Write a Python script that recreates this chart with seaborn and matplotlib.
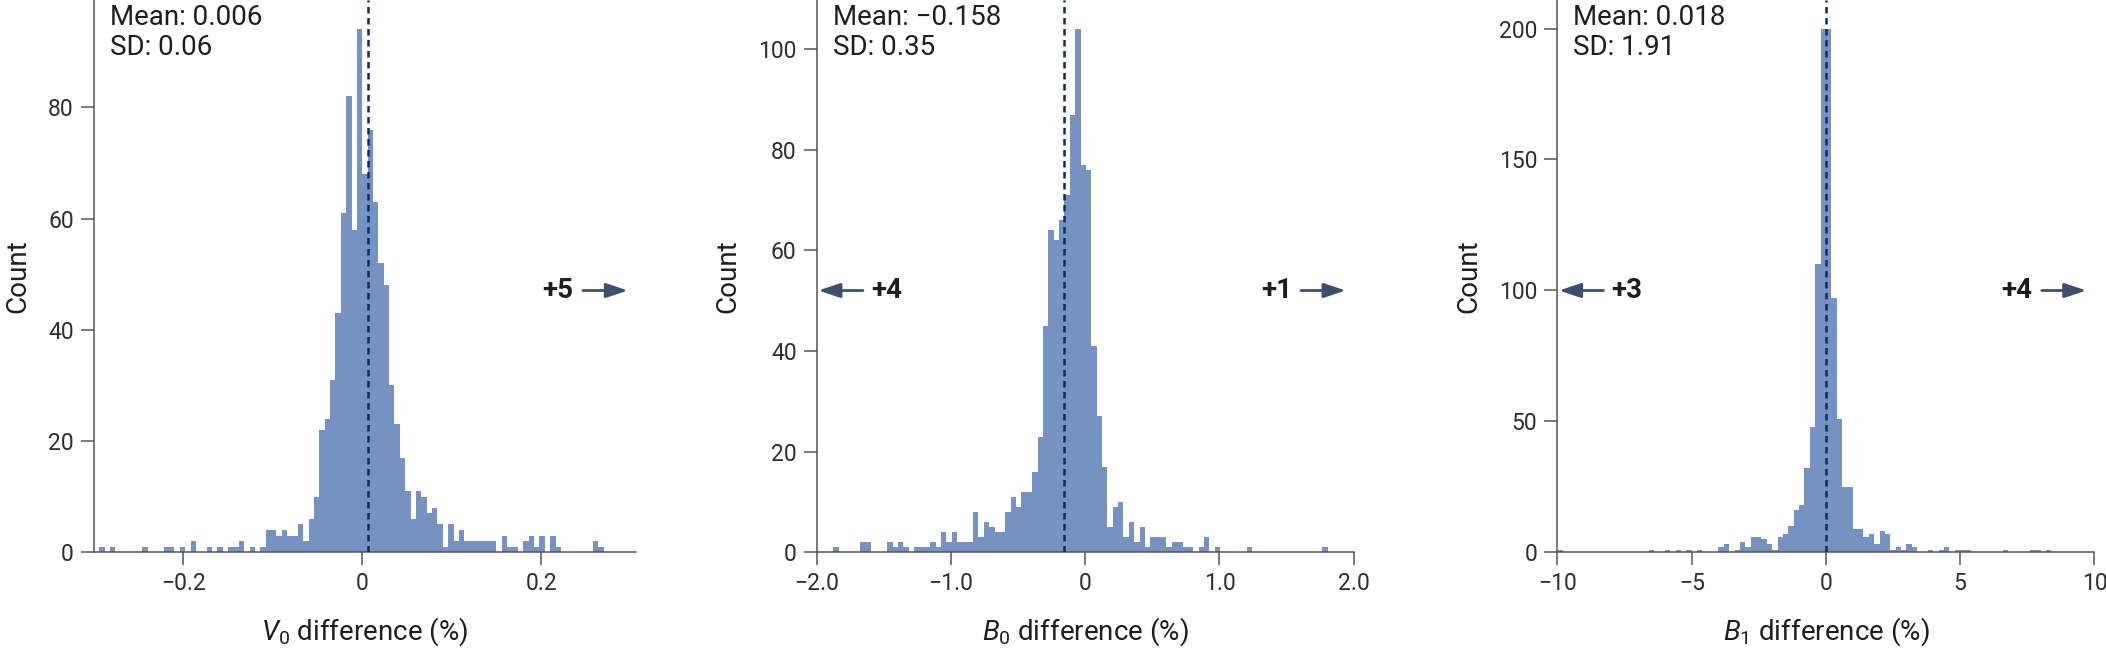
import numpy as np
import pandas as pd
import matplotlib
matplotlib.use("Agg")
import matplotlib.pyplot as plt
import seaborn as sns

# V0 difference: bins of 0.006 starting at -0.294
v0_start = -0.294
v0_width = 0.006
v0_counts = [1, 0, 1, 0, 0, 0, 0, 0, 1, 0,
             0, 0, 1, 1, 0, 1, 0, 2, 0, 0,
             1, 0, 1, 0, 1, 1, 2, 0, 1, 0,
             1, 4, 4, 3, 4, 3, 3, 5, 2, 6,
             10, 22, 24, 31, 43, 61, 82, 58, 94, 68,
             76, 63, 52, 48, 30, 23, 17, 11, 6, 11,
             10, 7, 8, 5, 1, 5, 2, 4, 2, 2,
             2, 2, 2, 2, 0, 3, 1, 1, 0, 2,
             3, 1, 3, 0, 3, 1, 0, 0, 0, 0,
             0, 0, 2, 1]

# B0 difference: bins of 0.04 starting at -1.875
b0_start = -1.875
b0_width = 0.04
b0_counts = [1, 0, 0, 0, 0, 2, 2, 0, 0, 0,
             2, 1, 2, 1, 0, 1, 1, 1, 2, 1,
             4, 2, 4, 2, 2, 2, 8, 3, 6, 5,
             4, 4, 8, 11, 9, 12, 12, 16, 23, 45,
             64, 62, 66, 71, 87, 104, 77, 76, 41, 27,
             17, 5, 9, 10, 3, 6, 2, 5, 1, 3,
             3, 3, 1, 2, 2, 1, 1, 0, 1, 3,
             0, 1, 0, 0, 0, 0, 0, 1, 0, 0,
             0, 0, 0, 0, 0, 0, 0, 0, 0, 0,
             0, 1]

# B1 difference: bins of 0.2 starting at -10
b1_start = -10.0
b1_width = 0.2
b1_counts = [1, 0, 0, 0, 0, 0, 0, 0, 0, 0,
             0, 0, 0, 0, 0, 0, 0, 1, 0, 0,
             1, 0, 1, 0, 1, 0, 1, 0, 0, 0,
             2, 3, 0, 1, 4, 2, 6, 6, 5, 3,
             1, 6, 7, 10, 16, 18, 32, 48, 110, 200,
             200, 97, 51, 25, 25, 9, 9, 6, 7, 3,
             8, 7, 1, 2, 1, 3, 2, 0, 0, 1,
             0, 1, 2, 0, 1, 1, 1, 0, 0, 0,
             0, 0, 0, 1, 0, 0, 0, 0, 1, 1,
             0, 1]

means = [0.006, -0.158, 0.018]
sds = ["0.06", "0.35", "1.91"]
mean_labels = ["0.006", "\u22120.158", "0.018"]
xlabels = [r"$V_{\mathrm{0}}$ difference (%)",
           r"$B_{\mathrm{0}}$ difference (%)",
           r"$B_{\mathrm{1}}$ difference (%)"]
xticks = [[-0.2, 0, 0.2], [-2, -1, 0, 1, 2], [-10, -5, 0, 5, 10]]
xticklabels = [["\u22120.2", "0", "0.2"],
               ["\u22122.0", "\u22121.0", "0", "1.0", "2.0"],
               ["\u221210", "\u22125", "0", "5", "10"]]
yticks = [[0, 20, 40, 60, 80], [0, 20, 40, 60, 80, 100], [0, 50, 100, 150, 200]]
xlims = [(-0.3, 0.306), (-2.0, 2.0), (-10.0, 10.0)]
ylims = [99.3, 109.8, 210.9]
left_out = [None, "+4", "+3"]
right_out = ["+5", "+1", "+4"]

sns.set_style("ticks")
plt.rcParams["font.family"] = ["Roboto", "DejaVu Sans"]
plt.rcParams["mathtext.fontset"] = "custom"
plt.rcParams["mathtext.rm"] = "Roboto"
plt.rcParams["mathtext.it"] = "Roboto:italic"

bar_color = "#7592c3"
line_color = "#0d2b5c"
arrow_color = "#3c4f72"
text_color = "#1e1e1e"

fig = plt.figure(figsize=(21.06, 6.49), dpi=100)
positions = [[0.0446, 0.149, 0.2574, 0.851],
             [0.3878, 0.149, 0.2550, 0.851],
             [0.7395, 0.149, 0.2550, 0.851]]

panels = [(v0_start, v0_width, v0_counts),
          (b0_start, b0_width, b0_counts),
          (b1_start, b1_width, b1_counts)]

for p, (start, width, counts) in enumerate(panels):
    ax = fig.add_axes(positions[p])
    edges = start + width * np.arange(len(counts) + 1)
    df = pd.DataFrame({"x": (edges[:-1] + edges[1:]) / 2, "n": counts})
    sns.histplot(data=df, x="x", weights="n", bins=edges.tolist(), ax=ax,
                 color=bar_color, alpha=1, linewidth=0)
    ax.axvline(means[p], color=line_color, lw=1.8, dashes=(2.6, 1.8), zorder=3)

    ax.set_xlim(*xlims[p])
    ax.set_ylim(0, ylims[p])
    ax.set_xticks(xticks[p], xticklabels[p])
    ax.set_yticks(yticks[p])
    ax.tick_params(axis="both", length=9.5, width=1.1, color="#555555",
                   labelsize=16.5, labelcolor="#2e2e2e", pad=5)
    for side in ["top", "right"]:
        ax.spines[side].set_visible(False)
    for side in ["left", "bottom"]:
        ax.spines[side].set_color("#555555")
        ax.spines[side].set_linewidth(1.1)

    ax.set_xlabel(xlabels[p], fontsize=20, color=text_color, labelpad=14)
    ax.set_ylabel("Count", fontsize=20, color=text_color, labelpad=12)

    ax.text(0.03, 0.992, f"Mean: {mean_labels[p]}\nSD: {sds[p]}",
            transform=ax.transAxes, ha="left", va="top", fontsize=20,
            color=text_color, linespacing=1.1)

    arrow_kw = dict(arrowstyle="-|>,head_length=0.6,head_width=0.2",
                    color=arrow_color, lw=2.0, shrinkA=0, shrinkB=0,
                    mutation_scale=22)
    y_arr = 0.474
    if right_out[p]:
        ax.annotate("", xy=(0.985, y_arr), xytext=(0.902, y_arr),
                    xycoords="axes fraction", arrowprops=arrow_kw)
        ax.text(0.885, y_arr, right_out[p], transform=ax.transAxes,
                ha="right", va="center", fontsize=20, fontweight="bold",
                color=text_color)
    if left_out[p]:
        ax.annotate("", xy=(0.003, y_arr), xytext=(0.086, y_arr),
                    xycoords="axes fraction", arrowprops=arrow_kw)
        ax.text(0.101, y_arr, left_out[p], transform=ax.transAxes,
                ha="left", va="center", fontsize=20, fontweight="bold",
                color=text_color)

fig.savefig("out.png", dpi=100)
